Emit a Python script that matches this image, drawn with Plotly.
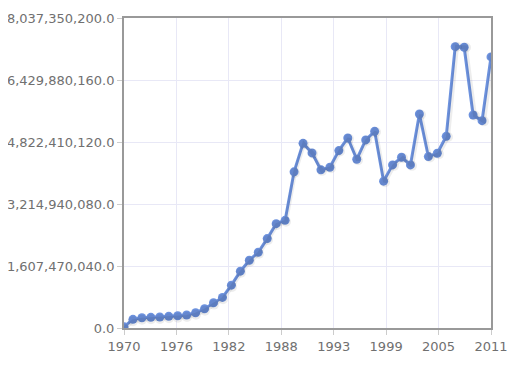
import plotly.graph_objects as go

years = list(range(1970, 2012))
values = [34e6, 225e6, 266e6, 276e6, 284e6, 302e6, 318e6, 336e6, 396e6, 499e6,
          654e6, 793e6, 1111e6, 1473e6, 1757e6, 1964e6, 2318e6, 2705e6, 2791e6, 4049e6,
          4788e6, 4540e6, 4100e6, 4168e6, 4600e6, 4927e6, 4375e6, 4876e6, 5099e6, 3807e6,
          4229e6, 4427e6, 4229e6, 5547e6, 4444e6, 4531e6, 4970e6, 7295e6, 7279e6, 5522e6,
          5375e6, 7028e6]

y_max = 8037350200.0
y_step = 1607470040.0
y_ticks = [y_step * i for i in range(6)]
x_tick_labels = ["1970", "1976", "1982", "1988", "1993", "1999", "2005", "2011"]
x_ticks = [1970 + i * 41 / 7 for i in range(8)]
x0, x1 = 1970, 2011

# page body has an 8px default margin, so the figure is drawn 8px in from the corner
W, H = 513, 367
L, R, T, B = 116, 30, 10, 47
pw, ph = W - L - R, H - T - B
dx, dy = 2 / pw, 2 / ph

line_color = "#6d92de"

fig = go.Figure()
# soft shadow of the series (same data on axes offset by a couple of pixels)
fig.add_trace(go.Scatter(
    x=years, y=values, mode="lines+markers", xaxis="x2", yaxis="y2",
    line=dict(color="rgba(0,0,0,0.07)", width=4),
    marker=dict(color="rgba(0,0,0,0.07)", size=10),
    hoverinfo="skip",
))
fig.add_trace(go.Scatter(
    x=years, y=values, mode="lines+markers",
    line=dict(color=line_color, width=3),
    marker=dict(color=line_color, size=9),
    hoverinfo="x+y",
))

fig.update_layout(
    width=W, height=H,
    margin=dict(l=L, r=R, t=T, b=B, autoexpand=False),
    paper_bgcolor="white", plot_bgcolor="white",
    showlegend=False,
    font=dict(family="DejaVu Sans", size=13, color="#707070"),
    xaxis=dict(
        range=[x0, x1], tickvals=x_ticks, ticktext=x_tick_labels,
        showgrid=True, gridcolor="#e8e8f6", gridwidth=1,
        showline=True, linecolor="#999999", linewidth=2, mirror=True,
        ticks="outside", ticklen=5, tickcolor="#cccccc",
        zeroline=False, automargin=False,
    ),
    yaxis=dict(
        range=[0, y_max], tickvals=y_ticks, tickformat=",.1f",
        showgrid=True, gridcolor="#e8e8f6", gridwidth=1,
        showline=True, linecolor="#999999", linewidth=2, mirror=True,
        ticks="outside", ticklen=5, tickcolor="#cccccc",
        zeroline=False, automargin=False,
    ),
    xaxis2=dict(range=[x0, x0 + (x1 - x0) * (1 - dx)], domain=[dx, 1],
                overlaying="x", visible=False, anchor="y2"),
    yaxis2=dict(range=[y_max * dy, y_max], domain=[0, 1 - dy],
                overlaying="y", visible=False, anchor="x2"),
)

fig.write_html("out.html")
